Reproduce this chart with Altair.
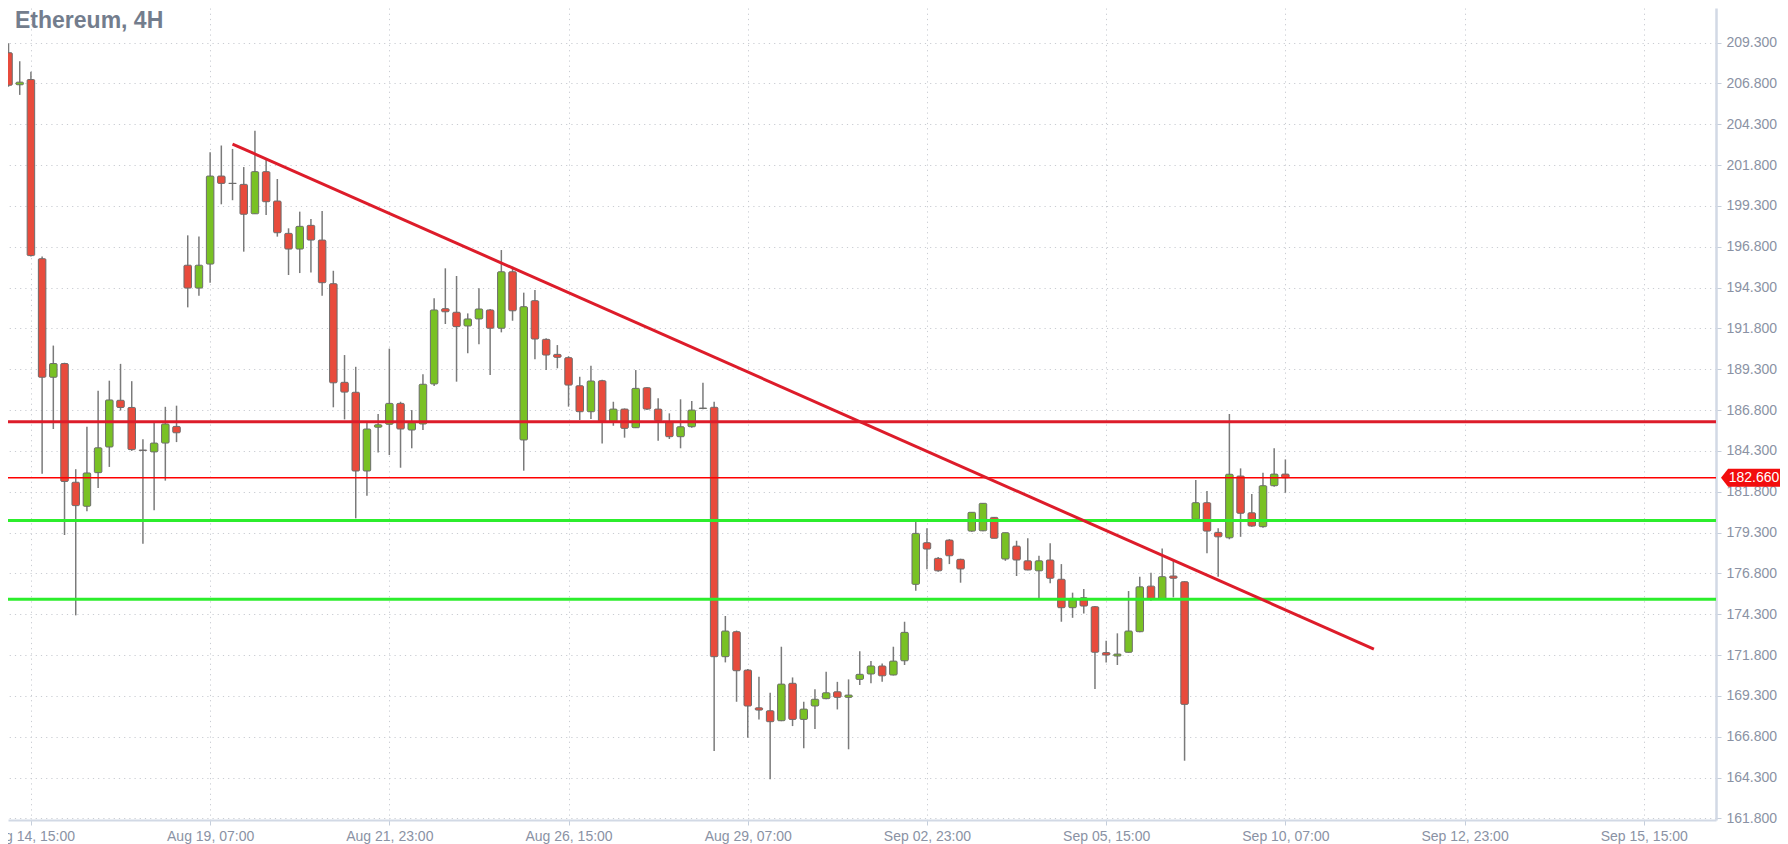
import altair as alt
import pandas as pd

# ---------------- data ----------------
candle_idx = list(range(-2, 113))
opens = [208.68, 206.72, 207.04, 196.07, 188.81, 189.65, 182.38, 180.91, 182.97, 184.54,
         187.40, 186.96, 184.35, 184.24, 184.78, 185.80, 195.67, 194.27, 195.74, 201.13,
         200.68, 200.62, 198.82, 201.40, 199.60, 197.62, 196.66, 198.11, 197.21, 194.54,
         188.50, 187.89, 183.07, 185.75, 185.93, 187.21, 185.58, 185.95, 188.40, 193.01,
         192.79, 191.95, 192.38, 192.93, 191.81, 195.27, 184.97, 193.50, 191.13, 190.21,
         190.01, 188.29, 186.70, 188.60, 186.09, 186.86, 185.72, 188.17, 186.86, 186.09,
         185.17, 185.78, 186.90, 186.97, 171.70, 173.23, 170.88, 168.57, 168.39, 167.78,
         170.07, 167.86, 168.68, 169.13, 169.55, 169.21, 170.31, 170.64, 171.13, 170.58,
         171.45, 176.13, 178.68, 177.72, 178.84, 177.66, 179.39, 179.41, 180.23, 177.68,
         178.47, 177.57, 176.96, 177.62, 176.44, 174.70, 175.31, 174.76, 171.95, 171.74,
         171.97, 173.23, 176.02, 175.23, 176.64, 176.29, 180.11, 181.13, 179.31, 178.98,
         182.76, 180.51, 179.66, 182.17, 182.88]
highs = [209.26, 208.16, 207.51, 196.20, 190.75, 189.70, 183.18, 185.78, 187.98, 188.60,
         189.63, 188.57, 185.01, 186.02, 187.00, 187.07, 197.50, 197.43, 202.58, 203.00,
         202.79, 201.68, 203.90, 202.15, 200.95, 197.93, 198.95, 198.50, 198.99, 195.33,
         190.17, 189.45, 186.09, 186.56, 190.56, 187.31, 186.80, 188.99, 193.64, 195.48,
         195.01, 192.72, 194.26, 192.99, 196.60, 195.58, 193.99, 194.15, 191.20, 190.78,
         190.10, 188.84, 189.52, 188.65, 187.31, 186.90, 189.25, 188.20, 187.52, 186.60,
         187.46, 187.35, 188.47, 187.31, 174.19, 173.30, 170.95, 170.47, 169.49, 172.31,
         170.43, 168.94, 169.70, 170.78, 170.16, 170.31, 172.04, 171.43, 171.29, 172.31,
         173.84, 180.07, 179.56, 177.80, 178.90, 177.70, 180.54, 181.09, 180.25, 179.29,
         178.80, 178.95, 177.88, 178.64, 177.37, 175.62, 175.84, 174.80, 172.68, 173.13,
         175.72, 176.60, 176.84, 178.33, 177.66, 176.32, 182.52, 181.84, 179.56, 186.56,
         183.23, 181.66, 182.96, 184.46, 183.78]
lows = [206.60, 206.10, 196.20, 182.90, 185.64, 179.15, 174.23, 180.61, 182.03, 183.32,
        186.77, 184.30, 178.61, 180.67, 182.48, 184.84, 193.09, 193.80, 194.60, 199.40,
        199.65, 196.50, 198.80, 198.74, 197.42, 195.07, 195.19, 195.23, 193.80, 186.97,
        186.23, 180.17, 181.56, 184.21, 184.05, 183.27, 184.46, 185.58, 188.27, 192.07,
        188.54, 190.28, 190.83, 188.95, 191.56, 192.27, 183.09, 189.91, 189.25, 189.36,
        187.01, 186.19, 186.25, 184.76, 185.84, 185.11, 185.70, 186.80, 184.92, 185.03,
        184.46, 185.72, 186.85, 165.92, 171.35, 168.94, 166.74, 167.86, 164.19, 167.75,
        167.45, 166.09, 167.27, 169.10, 168.47, 166.03, 169.96, 170.07, 170.16, 170.55,
        171.19, 175.74, 177.05, 176.90, 177.37, 176.23, 179.35, 179.38, 178.95, 177.57,
        176.64, 177.00, 175.27, 176.19, 173.84, 174.08, 174.35, 169.72, 171.35, 171.19,
        171.95, 173.20, 175.13, 175.20, 175.33, 165.33, 179.95, 178.03, 176.60, 178.89,
        179.04, 179.65, 179.60, 182.10, 181.74]
closes = [206.69, 206.88, 196.26, 188.81, 189.65, 182.43, 180.95, 182.95, 184.49, 187.42,
          186.96, 184.38, 184.33, 184.78, 185.95, 185.41, 194.27, 195.67, 201.13, 200.68,
          200.68, 198.79, 201.40, 199.56, 197.66, 196.66, 198.05, 197.21, 194.60, 188.47,
          187.90, 183.07, 185.64, 185.90, 187.21, 185.64, 186.03, 188.38, 192.93, 192.82,
          191.91, 192.38, 192.99, 191.81, 195.27, 192.88, 193.13, 191.15, 190.17, 190.03,
          188.33, 186.70, 188.58, 186.09, 186.86, 185.68, 188.13, 186.86, 186.15, 185.17,
          185.78, 186.80, 186.92, 171.70, 173.27, 170.84, 168.68, 168.43, 167.72, 170.02,
          167.86, 168.49, 169.09, 169.49, 169.21, 169.35, 170.62, 171.13, 170.53, 171.43,
          173.19, 179.25, 178.29, 176.96, 177.88, 177.07, 180.54, 181.09, 178.95, 179.29,
          177.62, 177.01, 177.57, 176.50, 174.70, 175.27, 174.80, 171.97, 171.80, 171.86,
          173.27, 175.98, 175.21, 176.60, 176.50, 168.78, 181.13, 179.39, 179.04, 182.87,
          180.48, 179.70, 182.17, 182.88, 182.66]

x_label_pos = [0, 16, 32, 48, 64, 80, 96, 112, 128, 144]
x_labels = ["Aug 14, 15:00", "Aug 19, 07:00", "Aug 21, 23:00", "Aug 26, 15:00",
            "Aug 29, 07:00", "Sep 02, 23:00", "Sep 05, 15:00", "Sep 10, 07:00",
            "Sep 12, 23:00", "Sep 15, 15:00"]
y_ticks = [161.8, 164.3, 166.8, 169.3, 171.8, 174.3, 176.8, 179.3, 181.8, 184.3, 186.8,
           189.3, 191.8, 194.3, 196.8, 199.3, 201.8, 204.3, 206.8, 209.3]

level_values = [186.09, 182.66, 180.04, 175.21]
level_colors = ["#dd1c2a", "#ff0000", "#2cee2c", "#2cee2c"]
level_widths = [3, 1.5, 3, 3]

trend_x = [18.0, 119.9]
trend_y = [203.09, 172.17]

last_price = 182.66
chart_title = "Ethereum, 4H"

# ---------------- tables ----------------
df = pd.DataFrame({"i": candle_idx, "open": opens, "high": highs,
                   "low": lows, "close": closes})
df["fill"] = ["#79c124" if c > o else ("#e84b3c" if c < o else "#707070")
              for o, c in zip(opens, closes)]
levels = pd.DataFrame({"v": level_values, "c": level_colors, "w": level_widths})
trend = pd.DataFrame({"x": trend_x, "y": trend_y})
tag = pd.DataFrame({"v": [last_price], "t": [f"{last_price:.3f}"]})
ttl = pd.DataFrame({"t": [chart_title]})

W, H = 1708, 812
xs = alt.Scale(domain=[-1.6, 150.0], nice=False, zero=False)
ys = alt.Scale(domain=[161.70, 211.42], nice=False, zero=False)

label_expr = "[" + ",".join("'%s'" % s for s in x_labels) + "][round(datum.value/16)]"

x_axis = alt.Axis(values=x_label_pos, labelExpr=label_expr, title=None, orient="bottom",
                  grid=True, gridDash=[1.2, 4], gridColor="#c9ccd2",
                  domainColor="#d2d9e5", domainWidth=2, tickColor="#c5cedb", tickSize=5,
                  labelPadding=4, labelFontSize=14, labelColor="#8a92a4",
                  labelFont="Liberation Sans", labelOverlap=False)
y_axis = alt.Axis(values=y_ticks, format=".3f", title=None, orient="right",
                  grid=True, gridDash=[1.2, 4], gridColor="#c9ccd2",
                  domainColor="#d2d9e5", domainWidth=2.5, tickColor="#c5cedb", tickSize=5,
                  labelPadding=5, labelFontSize=14, labelColor="#8a92a4",
                  labelFont="Liberation Sans", labelOverlap=False)

base = alt.Chart(df)

wicks = base.mark_rule(color="#7a7a7a", strokeWidth=1.5, clip=True).encode(
    x=alt.X("i:Q", scale=xs, axis=x_axis),
    y=alt.Y("low:Q", scale=ys, axis=y_axis),
    y2="high:Q",
)

bodies = base.mark_bar(size=7.5, stroke="#6c6c6c", strokeWidth=1, cornerRadius=1,
                       clip=True).encode(
    x=alt.X("i:Q", scale=xs),
    y=alt.Y("open:Q", scale=ys),
    y2="close:Q",
    fill=alt.Fill("fill:N", scale=None),
)

hlines = alt.Chart(levels).mark_rule(clip=True).encode(
    y=alt.Y("v:Q", scale=ys),
    color=alt.Color("c:N", scale=None),
    strokeWidth=alt.StrokeWidth("w:Q", scale=None),
)

trend_line = alt.Chart(trend).mark_line(color="#dd1c2a", strokeWidth=3, clip=True).encode(
    x=alt.X("x:Q", scale=xs),
    y=alt.Y("y:Q", scale=ys),
)

tag_shape = alt.Chart(tag).mark_point(
    shape="M -1 0 L -0.76 -0.305 L 1 -0.305 L 1 0.305 L -0.76 0.305 Z",
    filled=True, fill="#f20d0d", strokeWidth=0, opacity=1, size=3481, clip=False,
).encode(x=alt.value(W + 34.5), y=alt.Y("v:Q", scale=ys))

tag_text = alt.Chart(tag).mark_text(
    color="white", font="Liberation Sans", fontSize=14, align="center",
    baseline="middle", clip=False,
).encode(x=alt.value(W + 38), y=alt.Y("v:Q", scale=ys), text="t:N")

title_text = alt.Chart(ttl).mark_text(
    align="left", baseline="alphabetic", font="Liberation Sans", fontSize=23,
    fontWeight="bold", color="#737d8d",
).encode(x=alt.value(7), y=alt.value(20), text="t:N")

chart = alt.layer(wicks, bodies, hlines, trend_line, title_text, tag_shape, tag_text).properties(
    width=W, height=H,
    padding={"left": 0, "top": 0, "right": 64, "bottom": 24},
    autosize=alt.AutoSizeParams(type="none"),
    background="white",
).configure_view(strokeWidth=0)

chart.save("out.html", embed_options={"renderer": "svg", "actions": False})
